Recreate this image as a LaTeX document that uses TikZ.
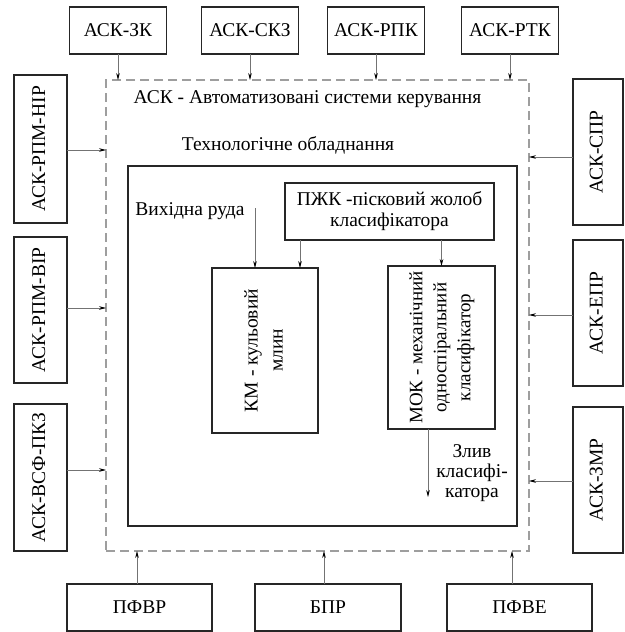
\documentclass[tikz,border=0pt]{standalone}
\usepackage{fontspec}
\usepackage{graphicx}
\setmainfont{Liberation Serif}
\usetikzlibrary{arrows.meta}
\newcommand{\upright}[1]{\rotatebox{90}{\begin{tabular}{@{}c@{}}#1\end{tabular}}}
\begin{document}
\begin{tikzpicture}[x=1pt,y=-1pt,
  box/.style={draw=black!85, line width=1.4pt, fill=white, inner sep=0pt, outer sep=0pt,
              font=\fontsize{19.5}{23}\selectfont, align=center},
  techframe/.style={draw=black!85, line width=1.9pt, inner sep=0pt, outer sep=0pt},
  askframe/.style={draw=black!38, line width=1.2pt, dash pattern=on 9pt off 5pt,
                   inner sep=0pt, outer sep=0pt},
  arr/.style={draw=black!55, line width=0.7pt, -{Stealth[length=7pt,width=3.6pt,black]}},
  lbl/.style={font=\fontsize{19.5}{21}\selectfont, align=center, inner sep=0pt},
]
\useasboundingbox (0,0) rectangle (624,632);

% outer frame of the control systems and the equipment frame
\node[askframe, minimum width=423pt, minimum height=471pt] (ask) at (317.5,315.5) {};
\node[techframe, minimum width=389pt, minimum height=360pt] (tech) at (322.5,346) {};

% titles
\node[lbl, anchor=base] (asktitle) at (307.5,103) {АСК - Автоматизовані системи керування};
\node[lbl, anchor=base] (techtitle) at (288,150) {Технологічне обладнання};

% top control systems
\node[box, minimum width=97pt, minimum height=47pt] (zk)  at (118,30.5) {АСК-ЗК};
\node[box, minimum width=97pt, minimum height=47pt] (skz) at (250,30.5) {АСК-СКЗ};
\node[box, minimum width=97pt, minimum height=47pt] (rpk) at (376,30.5) {АСК-РПК};
\node[box, minimum width=97pt, minimum height=47pt] (rtk) at (510,30.5) {АСК-РТК};

% left control systems
\node[box, minimum width=53pt, minimum height=148pt] (nir) at (40.5,149) {\upright{АСК-РПМ-НІР}};
\node[box, minimum width=53pt, minimum height=146pt] (vir) at (40.5,310) {\upright{АСК-РПМ-ВІР}};
\node[box, minimum width=53pt, minimum height=147pt] (pkz) at (40.5,477.5) {\upright{АСК-ВСФ-ПКЗ}};

% right control systems
\node[box, minimum width=50pt, minimum height=146pt] (spr) at (598,152) {\upright{АСК-СПР}};
\node[box, minimum width=50pt, minimum height=146pt] (epr) at (598,313) {\upright{АСК-ЕПР}};
\node[box, minimum width=50pt, minimum height=146pt] (zmr) at (598,480) {\upright{АСК-ЗМР}};

% bottom units
\node[box, minimum width=145pt, minimum height=47pt] (pfvr) at (139.5,607.5) {ПФВР};
\node[box, minimum width=146pt, minimum height=47pt] (bpr)  at (328,607.5) {БПР};
\node[box, minimum width=145pt, minimum height=47pt] (pfve) at (519.5,607.5) {ПФВЕ};

% equipment
\node[box, minimum width=209pt, minimum height=57pt, font=\fontsize{19.5}{21}\selectfont] (pzk) at (389.5,211.5)
  {ПЖК -пісковий жолоб\\класифікатора};
\node[box, minimum width=106pt, minimum height=165pt, font=\fontsize{19.5}{25}\selectfont] (km) at (265,350.5)
  {\upright{КМ - кульовий\\млин}};
\node[box, minimum width=107pt, minimum height=163pt, font=\fontsize{19}{24}\selectfont] (mok) at (441.5,347.5)
  {\upright{МОК - механічний\\односпіральний\\класифікатор}};

\node[lbl] (ore) at (190,211) {Вихідна руда};
\node[lbl, font=\fontsize{19.5}{20}\selectfont] (drainlbl) at (472,473) {Злив\\класифі-\\катора};

% arrows into the control frame
\foreach \b in {zk,skz,rpk,rtk}
  \draw[arr] (\b.south) -- (\b.south |- ask.north);

\coordinate (nirout) at ([yshift=-1pt]nir.east);
\coordinate (virout) at ([yshift=2pt]vir.east);
\coordinate (pkzout) at ([yshift=7.5pt]pkz.east);
\foreach \c in {nirout,virout,pkzout}
  \draw[arr] (\c) -- (\c -| ask.west);

\coordinate (sprout) at ([yshift=-5pt]spr.west);
\coordinate (eprout) at ([yshift=-2pt]epr.west);
\coordinate (zmrout) at ([yshift=-1pt]zmr.west);
\foreach \c in {sprout,eprout,zmrout}
  \draw[arr] (\c) -- (\c -| ask.east);

\coordinate (pfvrout) at ([xshift=-2.5pt]pfvr.north);
\coordinate (bprout)  at ([xshift=-4pt]bpr.north);
\coordinate (pfveout) at ([xshift=-7.5pt]pfve.north);
\foreach \c in {pfvrout,bprout,pfveout}
  \draw[arr] (\c) -- (\c |- ask.south);

% material flows
\coordinate (orein) at (255,208);
\draw[arr] (orein) -- (orein |- km.north);
\path (pzk.south west) ++(15,0) coordinate (pzkkm);
\draw[arr] (pzkkm) -- (pzkkm |- km.north);
\draw[arr] (pzk.south -| mok.north) -- (mok.north);
\coordinate (drain) at (428,497);
\draw[arr] (drain |- mok.south) -- (drain);
\end{tikzpicture}
\end{document}
